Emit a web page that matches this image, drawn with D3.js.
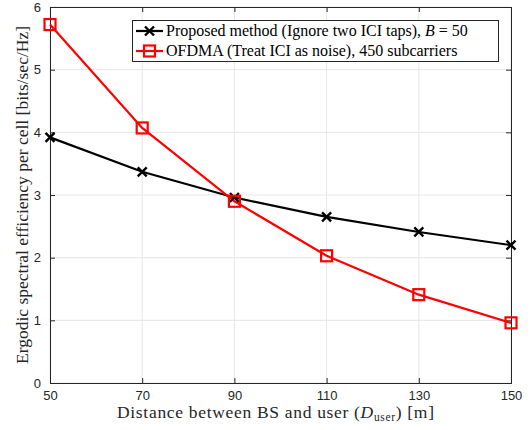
<!DOCTYPE html>
<html><head><meta charset="utf-8">
<script src="https://cdn.jsdelivr.net/npm/d3@7"></script>
<style>body{margin:0;background:#fff}</style>
</head><body>
<svg id="c" width="531" height="430"></svg>
<script>
const distances = [50, 70, 90, 110, 130, 150];
const proposed = [3.92, 3.37, 2.96, 2.65, 2.41, 2.20];
const ofdma = [5.72, 4.07, 2.90, 2.03, 1.41, 0.96];
const xTicks = [50, 70, 90, 110, 130, 150];
const yTicks = [0, 1, 2, 3, 4, 5, 6];
const legendLabels = ["Proposed method (Ignore two ICI taps), ", "OFDMA (Treat ICI as noise), 450 subcarriers"];

const svg = d3.select("#c");
const L = 50, R = 511, T = 7, B = 383;
const x = d3.scaleLinear().domain([50, 150]).range([L, R]);
const y = d3.scaleLinear().domain([0, 6]).range([B, T]);
const serif = "'Liberation Serif','Times New Roman',serif";
const sans = "'Liberation Sans',Arial,sans-serif";

// grid
svg.append("g").selectAll("line").data(xTicks).join("line")
  .attr("x1", d => x(d)).attr("x2", d => x(d)).attr("y1", T).attr("y2", B)
  .attr("stroke", "#e6e6e6").attr("stroke-width", 1);
svg.append("g").selectAll("line").data(yTicks).join("line")
  .attr("x1", L).attr("x2", R).attr("y1", d => y(d)).attr("y2", d => y(d))
  .attr("stroke", "#e6e6e6").attr("stroke-width", 1);

// axes
const ax = svg.append("g").attr("transform", `translate(0,${B})`)
  .call(d3.axisBottom(x).tickValues(xTicks).tickSize(-5).tickPadding(8));
const axT = svg.append("g").attr("transform", `translate(0,${T})`)
  .call(d3.axisTop(x).tickValues(xTicks).tickSize(-5).tickFormat(""));
const ay = svg.append("g").attr("transform", `translate(${L},0)`)
  .call(d3.axisLeft(y).tickValues(yTicks).tickFormat(d3.format("d")).tickSize(-5).tickPadding(9));
const ayR = svg.append("g").attr("transform", `translate(${R},0)`)
  .call(d3.axisRight(y).tickValues(yTicks).tickSize(-5).tickFormat(""));
[ax, axT, ay, ayR].forEach(g => {
  g.selectAll("path,line").attr("stroke", "#262626").attr("stroke-width", 1);
  g.selectAll("text").attr("font-family", sans).attr("font-size", 13).attr("fill", "#262626");
});

// lines
const line = d3.line().x((d, i) => x(distances[i])).y(d => y(d));
svg.append("path").datum(proposed).attr("d", line).attr("fill", "none")
  .attr("stroke", "#000").attr("stroke-width", 2.2);
svg.append("path").datum(ofdma).attr("d", line).attr("fill", "none")
  .attr("stroke", "#ff0000").attr("stroke-width", 2.2);

function cross(g, cx, cy) {
  const s = 4.5;
  g.append("path").attr("d", `M${cx - s},${cy - s}L${cx + s},${cy + s}M${cx - s},${cy + s}L${cx + s},${cy - s}`)
    .attr("stroke", "#000").attr("stroke-width", 2.4);
}
function square(g, cx, cy) {
  const s = 5.5;
  g.append("rect").attr("x", cx - s).attr("y", cy - s).attr("width", 2 * s).attr("height", 2 * s)
    .attr("fill", "none").attr("stroke", "#ff0000").attr("stroke-width", 2.2);
}
const mk = svg.append("g");
proposed.forEach((v, i) => cross(mk, x(distances[i]), y(v)));
ofdma.forEach((v, i) => square(mk, x(distances[i]), y(v)));

// labels
svg.append("text").attr("x", 117).attr("y", 418)
  .attr("textLength", 317).attr("lengthAdjust", "spacing")
  .attr("font-family", serif).attr("font-size", 17.5).attr("fill", "#262626")
  .html("Distance between BS and user (<tspan font-style='italic'>D</tspan><tspan font-size='11.5' dy='3'>user</tspan><tspan dy='-3'>) [m]</tspan>");
svg.append("text").attr("transform", `translate(28,${(T + B) / 2}) rotate(-90)`).attr("text-anchor", "middle")
  .attr("font-family", serif).attr("font-size", 17.5).attr("fill", "#262626")
  .text("Ergodic spectral efficiency per cell [bits/sec/Hz]");

// legend
const lg = svg.append("g");
lg.append("rect").attr("x", 132.5).attr("y", 20.5).attr("width", 366).attr("height", 41)
  .attr("fill", "#fff").attr("stroke", "#262626").attr("stroke-width", 1);
const ly = [31, 51];
lg.append("line").attr("x1", 136).attr("x2", 163).attr("y1", ly[0]).attr("y2", ly[0]).attr("stroke", "#000").attr("stroke-width", 2.2);
cross(lg, 149.5, ly[0]);
lg.append("line").attr("x1", 136).attr("x2", 163).attr("y1", ly[1]).attr("y2", ly[1]).attr("stroke", "#ff0000").attr("stroke-width", 2.2);
square(lg, 149.5, ly[1]);
lg.append("text").attr("x", 166).attr("y", ly[0] + 5).attr("font-family", serif).attr("font-size", 16).attr("fill", "#000")
  .html(legendLabels[0] + "<tspan font-style='italic'>B</tspan> = 50");
lg.append("text").attr("x", 166).attr("y", ly[1] + 5).attr("font-family", serif).attr("font-size", 16).attr("fill", "#000")
  .text(legendLabels[1]);
</script>
</body></html>
